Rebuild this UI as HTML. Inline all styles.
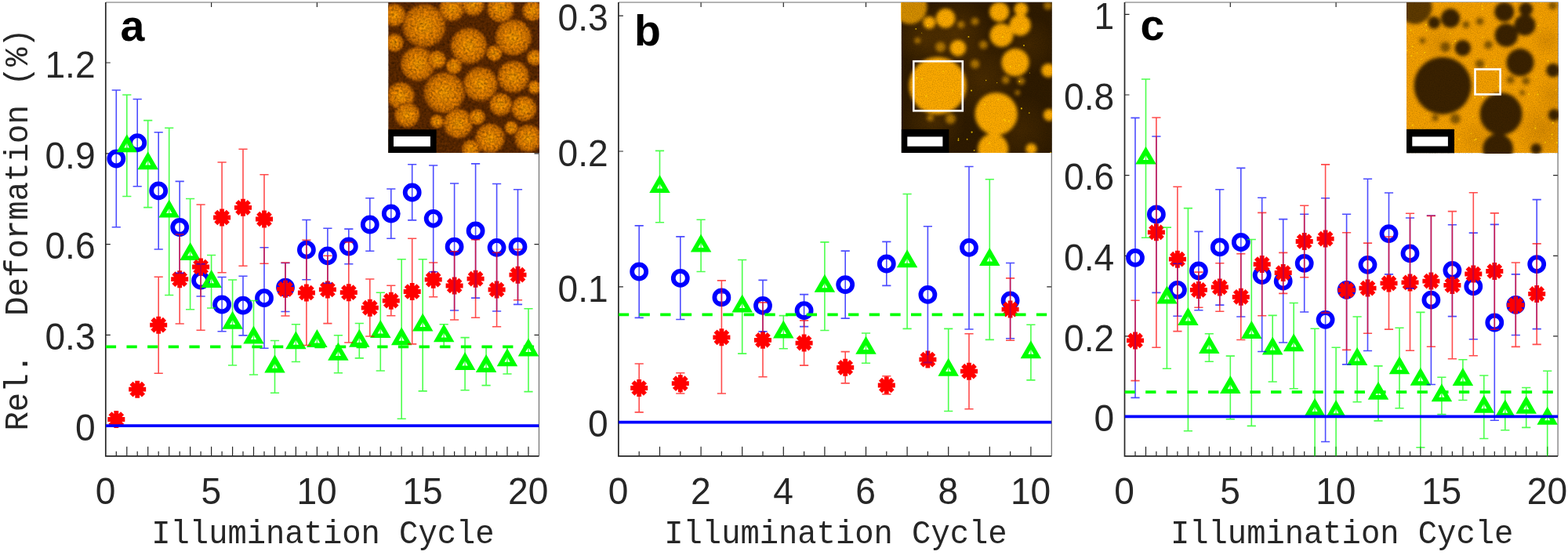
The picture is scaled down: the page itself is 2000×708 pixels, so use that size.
<!DOCTYPE html>
<html lang="en"><head><meta charset="utf-8"><title>Relative deformation vs illumination cycle</title>
<style>html,body{margin:0;padding:0;background:#fff}body{width:2000px;height:708px;overflow:hidden}svg{display:block}.tk{font-family:"Liberation Sans",sans-serif;font-size:48.6px;fill:#262626}.mono{font-family:"Liberation Mono","DejaVu Sans Mono",monospace;fill:#262626}.ltr{font-family:"Liberation Sans",sans-serif;font-weight:bold;font-size:55.5px;fill:#000}</style></head><body>
<svg width="2000" height="708" viewBox="0 0 2000 708">
<defs>
<filter id="nzA" x="0" y="0" width="100%" height="100%"><feTurbulence type="fractalNoise" baseFrequency="0.34" numOctaves="2" seed="3" result="t"/><feColorMatrix in="t" type="matrix" values="0 0 0 0 0  0 0 0 0 0  0 0 0 0 0  1.8 0 0 0 -0.6"/></filter>
<filter id="nzA2" x="0" y="0" width="100%" height="100%"><feTurbulence type="fractalNoise" baseFrequency="0.34" numOctaves="2" seed="9" result="t"/><feColorMatrix in="t" type="matrix" values="0 0 0 0 0  0 0 0 0 0  0 0 0 0 0  0 1.8 0 0 -0.7"/></filter>
<filter id="nzB" x="0" y="0" width="100%" height="100%"><feTurbulence type="fractalNoise" baseFrequency="0.85" numOctaves="2" seed="5" result="t"/><feColorMatrix in="t" type="matrix" values="0 0 0 0 0  0 0 0 0 0  0 0 0 0 0  2.6 0 0 0 -1.0"/></filter>
<filter id="bl1" x="-20%" y="-20%" width="140%" height="140%"><feGaussianBlur stdDeviation="2.0"/></filter>
<filter id="bl3" x="-20%" y="-20%" width="140%" height="140%"><feGaussianBlur stdDeviation="6"/></filter>
<filter id="bl5" x="-20%" y="-20%" width="140%" height="140%"><feGaussianBlur stdDeviation="1.0"/></filter>
<filter id="bl4" x="-20%" y="-20%" width="140%" height="140%"><feGaussianBlur stdDeviation="0.45"/></filter>
</defs>
<rect width="2000" height="708" fill="#ffffff"/>
<g id="panel-a">
<clipPath id="clip-a"><rect x="134.8" y="3.0" width="552.7" height="578.8"/></clipPath>
<path d="M134.8 543.2h6M687.5 543.2h-6M134.8 427.4h6M687.5 427.4h-6M134.8 311.6h6M687.5 311.6h-6M134.8 195.8h6M687.5 195.8h-6M134.8 80.0h6M687.5 80.0h-6M269.6 3.0v6M404.4 3.0v6M539.2 3.0v6M674.0 3.0v6M148.3 581.8v-6M161.8 581.8v-12M175.2 581.8v-6M188.7 581.8v-12M202.2 581.8v-6M215.7 581.8v-12M229.2 581.8v-6M242.6 581.8v-12M256.1 581.8v-6M269.6 581.8v-12M283.1 581.8v-6M296.6 581.8v-12M310.0 581.8v-6M323.5 581.8v-12M337.0 581.8v-6M350.5 581.8v-12M364.0 581.8v-6M377.4 581.8v-12M390.9 581.8v-6M404.4 581.8v-12M417.9 581.8v-6M431.4 581.8v-12M444.8 581.8v-6M458.3 581.8v-12M471.8 581.8v-6M485.3 581.8v-12M498.8 581.8v-6M512.2 581.8v-12M525.7 581.8v-6M539.2 581.8v-12M552.7 581.8v-6M566.2 581.8v-12M579.6 581.8v-6M593.1 581.8v-12M606.6 581.8v-6M620.1 581.8v-12M633.6 581.8v-6M647.0 581.8v-12M660.5 581.8v-6M674.0 581.8v-12" stroke="#262626" stroke-width="1.2" fill="none"/>
<path d="M134.8 3.0H687.5V581.8" stroke="#6a6a6a" stroke-width="1.15" fill="none"/>
<path d="M134.8 3.0V581.8H687.5" stroke="#262626" stroke-width="1.7" fill="none"/>
<g clip-path="url(#clip-a)">
<g fill="none" stroke="#0000ff" stroke-width="5.8"><circle cx="148.3" cy="202.5" r="9.0"/><circle cx="175.2" cy="182.2" r="9.0"/><circle cx="202.2" cy="243.4" r="9.0"/><circle cx="229.2" cy="290.0" r="9.0"/><circle cx="256.1" cy="357.7" r="9.0"/><circle cx="283.1" cy="388.5" r="9.0"/><circle cx="310.0" cy="389.7" r="9.0"/><circle cx="337.0" cy="380.2" r="9.0"/><circle cx="364.0" cy="366.7" r="9.0"/><circle cx="390.9" cy="318.7" r="9.0"/><circle cx="417.9" cy="326.3" r="9.0"/><circle cx="444.8" cy="314.5" r="9.0"/><circle cx="471.8" cy="286.5" r="9.0"/><circle cx="498.8" cy="272.5" r="9.0"/><circle cx="525.7" cy="245.5" r="9.0"/><circle cx="552.7" cy="278.8" r="9.0"/><circle cx="579.6" cy="314.7" r="9.0"/><circle cx="606.6" cy="294.5" r="9.0"/><circle cx="633.6" cy="315.8" r="9.0"/><circle cx="660.5" cy="314.7" r="9.0"/></g>
<g fill="none" stroke="#00ff00" stroke-width="5.6" stroke-linejoin="miter" stroke-miterlimit="10"><polygon points="161.8,176.9 170.2,191.4 153.4,191.4"/><polygon points="188.7,198.9 197.1,213.4 180.3,213.4"/><polygon points="215.7,260.1 224.1,274.7 207.3,274.7"/><polygon points="242.6,314.5 251.0,329.1 234.2,329.1"/><polygon points="269.6,349.5 278.0,364.1 261.2,364.1"/><polygon points="296.6,402.3 305.0,416.9 288.2,416.9"/><polygon points="323.5,421.2 331.9,435.8 315.1,435.8"/><polygon points="350.5,458.0 358.9,472.6 342.1,472.6"/><polygon points="377.4,427.9 385.8,442.5 369.0,442.5"/><polygon points="404.4,425.7 412.8,440.2 396.0,440.2"/><polygon points="431.4,442.3 439.8,456.9 423.0,456.9"/><polygon points="458.3,425.3 466.7,439.9 449.9,439.9"/><polygon points="485.3,413.6 493.7,428.2 476.9,428.2"/><polygon points="512.2,422.9 520.6,437.5 503.8,437.5"/><polygon points="539.2,405.2 547.6,419.8 530.8,419.8"/><polygon points="566.2,418.8 574.6,433.4 557.8,433.4"/><polygon points="593.1,454.6 601.5,469.2 584.7,469.2"/><polygon points="620.1,457.5 628.5,472.1 611.7,472.1"/><polygon points="647.0,449.9 655.4,464.5 638.6,464.5"/><polygon points="674.0,437.1 682.4,451.7 665.6,451.7"/></g>
<g fill="none" stroke="#ff0000" stroke-width="5.8"><path d="M137.3 535.0H159.3M148.3 524.0V546.0M140.5 527.2L156.1 542.8M140.5 542.8L156.1 527.2"/><path d="M164.2 496.7H186.2M175.2 485.7V507.7M167.5 488.9L183.0 504.5M167.5 504.5L183.0 488.9"/><path d="M191.2 414.7H213.2M202.2 403.7V425.7M194.4 406.9L210.0 422.5M194.4 422.5L210.0 406.9"/><path d="M218.2 356.2H240.2M229.2 345.2V367.2M221.4 348.4L236.9 364.0M221.4 364.0L236.9 348.4"/><path d="M245.1 340.5H267.1M256.1 329.5V351.5M248.3 332.7L263.9 348.3M248.3 348.3L263.9 332.7"/><path d="M272.1 277.5H294.1M283.1 266.5V288.5M275.3 269.7L290.9 285.3M275.3 285.3L290.9 269.7"/><path d="M299.0 264.8H321.0M310.0 253.8V275.8M302.3 257.0L317.8 272.6M302.3 272.6L317.8 257.0"/><path d="M326.0 279.5H348.0M337.0 268.5V290.5M329.2 271.7L344.8 287.3M329.2 287.3L344.8 271.7"/><path d="M353.0 368.8H375.0M364.0 357.8V379.8M356.2 361.0L371.7 376.6M356.2 376.6L371.7 361.0"/><path d="M379.9 373.5H401.9M390.9 362.5V384.5M383.1 365.7L398.7 381.3M383.1 381.3L398.7 365.7"/><path d="M406.9 369.4H428.9M417.9 358.4V380.4M410.1 361.6L425.7 377.2M410.1 377.2L425.7 361.6"/><path d="M433.8 373.2H455.8M444.8 362.2V384.2M437.1 365.4L452.6 381.0M437.1 381.0L452.6 365.4"/><path d="M460.8 392.7H482.8M471.8 381.7V403.7M464.0 384.9L479.6 400.5M464.0 400.5L479.6 384.9"/><path d="M487.8 383.7H509.8M498.8 372.7V394.7M491.0 375.9L506.5 391.5M491.0 391.5L506.5 375.9"/><path d="M514.7 372.0H536.7M525.7 361.0V383.0M517.9 364.2L533.5 379.8M517.9 379.8L533.5 364.2"/><path d="M541.7 356.7H563.7M552.7 345.7V367.7M544.9 348.9L560.5 364.5M544.9 364.5L560.5 348.9"/><path d="M568.6 364.5H590.6M579.6 353.5V375.5M571.9 356.7L587.4 372.3M571.9 372.3L587.4 356.7"/><path d="M595.6 355.7H617.6M606.6 344.7V366.7M598.8 347.9L614.4 363.5M598.8 363.5L614.4 347.9"/><path d="M622.6 369.5H644.6M633.6 358.5V380.5M625.8 361.7L641.3 377.3M625.8 377.3L641.3 361.7"/><path d="M649.5 350.7H671.5M660.5 339.7V361.7M652.7 342.9L668.3 358.5M652.7 358.5L668.3 342.9"/></g>
<path fill="none" stroke="#0000ff" stroke-opacity="0.7" stroke-width="1.6" d="M142.7 115.0H153.9M142.7 289.7H153.9M148.3 115.0V289.7M169.6 126.5H180.8M169.6 237.8H180.8M175.2 126.5V237.8M196.6 168.7H207.8M196.6 318.0H207.8M202.2 168.7V318.0M223.6 231.4H234.8M223.6 348.3H234.8M229.2 231.4V348.3M250.5 336.7H261.7M250.5 378.0H261.7M256.1 336.7V378.0M277.5 353.5H288.7M277.5 422.8H288.7M283.1 353.5V422.8M304.4 352.2H315.6M304.4 427.9H315.6M310.0 352.2V427.9M331.4 315.7H342.6M331.4 444.2H342.6M337.0 315.7V444.2M358.4 335.5H369.6M358.4 397.5H369.6M364.0 335.5V397.5M385.3 280.5H396.5M385.3 356.7H396.5M390.9 280.5V356.7M412.3 291.2H423.5M412.3 361.2H423.5M417.9 291.2V361.2M439.2 292.1H450.4M439.2 336.8H450.4M444.8 292.1V336.8M466.2 252.7H477.4M466.2 320.3H477.4M471.8 252.7V320.3M493.2 241.0H504.4M493.2 304.2H504.4M498.8 241.0V304.2M520.1 209.8H531.3M520.1 280.9H531.3M525.7 209.8V280.9M547.1 211.0H558.3M547.1 346.7H558.3M552.7 211.0V346.7M574.0 234.0H585.2M574.0 396.0H585.2M579.6 234.0V396.0M601.0 208.9H612.2M601.0 380.1H612.2M606.6 208.9V380.1M628.0 234.5H639.2M628.0 397.0H639.2M633.6 234.5V397.0M654.9 241.7H666.1M654.9 388.4H666.1M660.5 241.7V388.4"/>
<path fill="none" stroke="#00ff00" stroke-opacity="0.7" stroke-width="1.6" d="M156.2 121.0H167.4M156.2 250.5H167.4M161.8 121.0V250.5M183.1 153.6H194.3M183.1 264.6H194.3M188.7 153.6V264.6M210.1 163.3H221.3M210.1 376.5H221.3M215.7 163.3V376.5M237.0 253.5H248.2M237.0 394.8H248.2M242.6 253.5V394.8M264.0 325.5H275.2M264.0 393.0H275.2M269.6 325.5V393.0M291.0 357.0H302.2M291.0 466.0H302.2M296.6 357.0V466.0M317.9 383.5H329.1M317.9 478.0H329.1M323.5 383.5V478.0M344.9 434.5H356.1M344.9 501.2H356.1M350.5 434.5V501.2M371.8 413.8H383.0M371.8 461.5H383.0M377.4 413.8V461.5M398.8 431.0H410.0M398.8 440.0H410.0M404.4 431.0V440.0M425.8 427.8H437.0M425.8 475.8H437.0M431.4 427.8V475.8M452.7 412.5H463.9M452.7 456.9H463.9M458.3 412.5V456.9M479.7 373.2H490.9M479.7 473.0H490.9M485.3 373.2V473.0M506.6 330.8H517.8M506.6 534.3H517.8M512.2 330.8V534.3M533.6 330.8H544.8M533.6 498.9H544.8M539.2 330.8V498.9M560.6 413.7H571.8M560.6 442.5H571.8M566.2 413.7V442.5M587.5 430.6H598.7M587.5 497.7H598.7M593.1 430.6V497.7M614.5 442.5H625.7M614.5 491.6H625.7M620.1 442.5V491.6M641.4 442.0H652.6M641.4 477.0H652.6M647.0 442.0V477.0M668.4 393.8H679.6M668.4 499.6H679.6M674.0 393.8V499.6"/>
<path fill="none" stroke="#ff0000" stroke-opacity="0.7" stroke-width="1.6" d="M142.7 531.0H153.9M142.7 539.0H153.9M148.3 531.0V539.0M169.6 493.0H180.8M169.6 500.0H180.8M175.2 493.0V500.0M196.6 353.2H207.8M196.6 476.2H207.8M202.2 353.2V476.2M223.6 299.0H234.8M223.6 413.0H234.8M229.2 299.0V413.0M250.5 261.0H261.7M250.5 421.3H261.7M256.1 261.0V421.3M277.5 207.0H288.7M277.5 347.7H288.7M283.1 207.0V347.7M304.4 190.2H315.6M304.4 339.3H315.6M310.0 190.2V339.3M331.4 222.8H342.6M331.4 336.3H342.6M337.0 222.8V336.3M358.4 335.0H369.6M358.4 403.0H369.6M364.0 335.0V403.0M385.3 306.3H396.5M385.3 440.5H396.5M390.9 306.3V440.5M412.3 326.2H423.5M412.3 412.6H423.5M417.9 326.2V412.6M439.2 309.0H450.4M439.2 437.0H450.4M444.8 309.0V437.0M466.2 356.0H477.4M466.2 429.0H477.4M471.8 356.0V429.0M493.2 364.2H504.4M493.2 402.7H504.4M498.8 364.2V402.7M520.1 304.2H531.3M520.1 438.9H531.3M525.7 304.2V438.9M547.1 335.0H558.3M547.1 378.8H558.3M552.7 335.0V378.8M574.0 320.7H585.2M574.0 408.0H585.2M579.6 320.7V408.0M601.0 305.7H612.2M601.0 405.2H612.2M606.6 305.7V405.2M628.0 322.2H639.2M628.0 416.7H639.2M633.6 322.2V416.7M654.9 318.0H666.1M654.9 382.7H666.1M660.5 318.0V382.7"/>
<line x1="134.8" x2="687.5" y1="442.3" y2="442.3" stroke="#00ff00" stroke-width="3.8" stroke-dasharray="13.3 13.35"/>
<line x1="134.8" x2="687.5" y1="543.2" y2="543.2" stroke="#0000ff" stroke-width="3.8"/>
</g>
<clipPath id="ic-a"><rect x="495.2" y="3" width="192.8" height="192.0"/></clipPath>
<g clip-path="url(#ic-a)">
<rect x="495.2" y="3" width="192.8" height="192.0" fill="#622c00"/>
<radialGradient id="ga"><stop offset="0" stop-color="#ffa206"/><stop offset="0.5" stop-color="#f68c02"/><stop offset="0.84" stop-color="#d67400"/><stop offset="1" stop-color="#863e00"/></radialGradient>
<g fill="url(#ga)" filter="url(#bl5)"><circle cx="541.1" cy="32.8" r="28.3"/><circle cx="566.8" cy="118.2" r="26.8"/><circle cx="598.0" cy="58.6" r="23.8"/><circle cx="654.9" cy="47.7" r="23.8"/><circle cx="612.9" cy="107.3" r="22.4"/><circle cx="532.9" cy="81.6" r="22.4"/><circle cx="654.9" cy="97.9" r="20.9"/><circle cx="584.4" cy="157.5" r="19.4"/><circle cx="625.1" cy="176.4" r="19.4"/><circle cx="511.3" cy="122.2" r="17.9"/><circle cx="673.9" cy="176.4" r="17.9"/><circle cx="638.6" cy="11.1" r="17.9"/><circle cx="668.4" cy="138.5" r="16.4"/><circle cx="576.3" cy="11.1" r="16.4"/><circle cx="519.4" cy="146.6" r="16.4"/><circle cx="638.6" cy="133.1" r="14.9"/><circle cx="503.1" cy="19.3" r="14.9"/><circle cx="603.4" cy="5.7" r="14.9"/><circle cx="679.3" cy="13.8" r="13.4"/><circle cx="503.1" cy="54.5" r="11.9"/><circle cx="557.3" cy="76.2" r="11.9"/><circle cx="600.7" cy="190.0" r="11.9"/><circle cx="630.5" cy="68.0" r="10.4"/><circle cx="682.0" cy="73.5" r="10.4"/><circle cx="579.0" cy="84.3" r="10.4"/><circle cx="608.8" cy="149.3" r="10.4"/><circle cx="682.0" cy="111.4" r="8.9"/><circle cx="557.3" cy="154.8" r="8.9"/><circle cx="652.2" cy="162.9" r="8.9"/></g>
<rect x="495.2" y="3" width="192.8" height="192.0" fill="#401a00" filter="url(#nzA)" opacity="0.28"/>
<rect x="495.2" y="3" width="192.8" height="192.0" fill="#ffaa18" filter="url(#nzA2)" opacity="0.35"/>
<rect x="495.2" y="165.2" width="61.4" height="29.8" fill="#000"/>
<rect x="502.0" y="174.0" width="46.9" height="12.8" fill="#fff"/>
</g>
<text class="tk" transform="translate(121.6 561.9) scale(0.95 1)" text-anchor="end">0</text>
<text class="tk" transform="translate(121.6 446.1) scale(0.95 1)" text-anchor="end">0.3</text>
<text class="tk" transform="translate(121.6 330.3) scale(0.95 1)" text-anchor="end">0.6</text>
<text class="tk" transform="translate(121.6 214.5) scale(0.95 1)" text-anchor="end">0.9</text>
<text class="tk" transform="translate(121.6 98.7) scale(0.95 1)" text-anchor="end">1.2</text>
<text class="tk" transform="translate(134.5 642.5) scale(0.95 1)" text-anchor="middle">0</text>
<text class="tk" transform="translate(269.3 642.5) scale(0.95 1)" text-anchor="middle">5</text>
<text class="tk" transform="translate(404.1 642.5) scale(0.95 1)" text-anchor="middle">10</text>
<text class="tk" transform="translate(538.9 642.5) scale(0.95 1)" text-anchor="middle">15</text>
<text class="tk" transform="translate(673.7 642.5) scale(0.95 1)" text-anchor="middle">20</text>
<text class="mono" transform="translate(411.9 693.1) scale(1 1.06)" font-size="40.5" text-anchor="middle">Illumination Cycle</text>
<text class="ltr" x="153.6" y="51.8">a</text>
</g>
<g id="panel-b">
<clipPath id="clip-b"><rect x="788.9" y="3.0" width="552.4" height="578.8"/></clipPath>
<path d="M788.9 538.6h6M1341.3 538.6h-6M788.9 365.8h6M1341.3 365.8h-6M788.9 193.0h6M1341.3 193.0h-6M788.9 20.2h6M1341.3 20.2h-6M894.1 3.0v6M999.3 3.0v6M1104.5 3.0v6M1209.7 3.0v6M1314.9 3.0v6M815.2 581.8v-6M841.5 581.8v-12M867.8 581.8v-6M894.1 581.8v-12M920.4 581.8v-6M946.7 581.8v-12M973.0 581.8v-6M999.3 581.8v-12M1025.6 581.8v-6M1051.9 581.8v-12M1078.2 581.8v-6M1104.5 581.8v-12M1130.8 581.8v-6M1157.1 581.8v-12M1183.4 581.8v-6M1209.7 581.8v-12M1236.0 581.8v-6M1262.3 581.8v-12M1288.6 581.8v-6M1314.9 581.8v-12" stroke="#262626" stroke-width="1.2" fill="none"/>
<path d="M788.9 3.0H1341.3V581.8" stroke="#6a6a6a" stroke-width="1.15" fill="none"/>
<path d="M788.9 3.0V581.8H1341.3" stroke="#262626" stroke-width="1.7" fill="none"/>
<g clip-path="url(#clip-b)">
<g fill="none" stroke="#0000ff" stroke-width="5.8"><circle cx="815.2" cy="346.5" r="9.0"/><circle cx="867.8" cy="354.9" r="9.0"/><circle cx="920.4" cy="379.4" r="9.0"/><circle cx="973.0" cy="389.9" r="9.0"/><circle cx="1025.6" cy="396.2" r="9.0"/><circle cx="1078.2" cy="363.1" r="9.0"/><circle cx="1130.8" cy="336.5" r="9.0"/><circle cx="1183.4" cy="375.9" r="9.0"/><circle cx="1236.0" cy="315.9" r="9.0"/><circle cx="1288.6" cy="383.3" r="9.0"/></g>
<g fill="none" stroke="#00ff00" stroke-width="5.6" stroke-linejoin="miter" stroke-miterlimit="10"><polygon points="841.5,228.6 849.9,243.2 833.1,243.2"/><polygon points="894.1,304.1 902.5,318.7 885.7,318.7"/><polygon points="946.7,381.1 955.1,395.7 938.3,395.7"/><polygon points="999.3,414.1 1007.7,428.7 990.9,428.7"/><polygon points="1051.9,355.4 1060.3,370.0 1043.5,370.0"/><polygon points="1104.5,434.3 1112.9,448.9 1096.1,448.9"/><polygon points="1157.1,323.9 1165.5,338.5 1148.7,338.5"/><polygon points="1209.7,462.3 1218.1,476.9 1201.3,476.9"/><polygon points="1262.3,321.6 1270.7,336.2 1253.9,336.2"/><polygon points="1314.9,439.9 1323.3,454.5 1306.5,454.5"/></g>
<g fill="none" stroke="#ff0000" stroke-width="5.8"><path d="M804.2 495.0H826.2M815.2 484.0V506.0M807.4 487.2L823.0 502.8M807.4 502.8L823.0 487.2"/><path d="M856.8 489.2H878.8M867.8 478.2V500.2M860.0 481.4L875.6 497.0M860.0 497.0L875.6 481.4"/><path d="M909.4 430.3H931.4M920.4 419.3V441.3M912.6 422.5L928.2 438.1M912.6 438.1L928.2 422.5"/><path d="M962.0 433.8H984.0M973.0 422.8V444.8M965.2 426.0L980.8 441.6M965.2 441.6L980.8 426.0"/><path d="M1014.6 437.6H1036.6M1025.6 426.6V448.6M1017.8 429.8L1033.4 445.4M1017.8 445.4L1033.4 429.8"/><path d="M1067.2 468.8H1089.2M1078.2 457.8V479.8M1070.4 461.0L1086.0 476.6M1070.4 476.6L1086.0 461.0"/><path d="M1119.8 491.5H1141.8M1130.8 480.5V502.5M1123.0 483.7L1138.6 499.3M1123.0 499.3L1138.6 483.7"/><path d="M1172.4 458.6H1194.4M1183.4 447.6V469.6M1175.6 450.8L1191.2 466.4M1175.6 466.4L1191.2 450.8"/><path d="M1225.0 473.7H1247.0M1236.0 462.7V484.7M1228.2 465.9L1243.8 481.5M1228.2 481.5L1243.8 465.9"/><path d="M1277.6 394.6H1299.6M1288.6 383.6V405.6M1280.8 386.8L1296.4 402.4M1280.8 402.4L1296.4 386.8"/></g>
<path fill="none" stroke="#0000ff" stroke-opacity="0.7" stroke-width="1.6" d="M809.6 287.9H820.8M809.6 405.4H820.8M815.2 287.9V405.4M862.2 301.9H873.4M862.2 407.5H873.4M867.8 301.9V407.5M914.8 374.0H926.0M914.8 385.0H926.0M920.4 374.0V385.0M967.4 357.4H978.6M967.4 422.9H978.6M973.0 357.4V422.9M1020.0 375.6H1031.2M1020.0 416.6H1031.2M1025.6 375.6V416.6M1072.6 320.1H1083.8M1072.6 406.1H1083.8M1078.2 320.1V406.1M1125.2 308.4H1136.4M1125.2 364.4H1136.4M1130.8 308.4V364.4M1177.8 288.8H1189.0M1177.8 462.6H1189.0M1183.4 288.8V462.6M1230.4 212.5H1241.6M1230.4 420.0H1241.6M1236.0 212.5V420.0M1283.0 335.5H1294.2M1283.0 431.7H1294.2M1288.6 335.5V431.7"/>
<path fill="none" stroke="#00ff00" stroke-opacity="0.7" stroke-width="1.6" d="M835.9 192.4H847.1M835.9 283.7H847.1M841.5 192.4V283.7M888.5 280.2H899.7M888.5 346.5H899.7M894.1 280.2V346.5M941.1 331.5H952.3M941.1 451.1H952.3M946.7 331.5V451.1M993.7 402.6H1004.9M993.7 444.8H1004.9M999.3 402.6V444.8M1046.3 308.9H1057.5M1046.3 421.5H1057.5M1051.9 308.9V421.5M1098.9 425.0H1110.1M1098.9 463.2H1110.1M1104.5 425.0V463.2M1151.5 247.5H1162.7M1151.5 419.4H1162.7M1157.1 247.5V419.4M1204.1 419.4H1215.3M1204.1 524.5H1215.3M1209.7 419.4V524.5M1256.7 228.8H1267.9M1256.7 433.4H1267.9M1262.3 228.8V433.4M1309.3 414.2H1320.5M1309.3 484.9H1320.5M1314.9 414.2V484.9"/>
<path fill="none" stroke="#ff0000" stroke-opacity="0.7" stroke-width="1.6" d="M809.6 464.0H820.8M809.6 525.9H820.8M815.2 464.0V525.9M862.2 475.8H873.4M862.2 502.0H873.4M867.8 475.8V502.0M914.8 357.9H926.0M914.8 502.0H926.0M920.4 357.9V502.0M967.4 385.9H978.6M967.4 480.7H978.6M973.0 385.9V480.7M1020.0 408.9H1031.2M1020.0 466.1H1031.2M1025.6 408.9V466.1M1072.6 448.6H1083.8M1072.6 488.9H1083.8M1078.2 448.6V488.9M1125.2 479.8H1136.4M1125.2 502.9H1136.4M1130.8 479.8V502.9M1177.8 454.0H1189.0M1177.8 463.0H1189.0M1183.4 454.0V463.0M1230.4 425.7H1241.6M1230.4 521.7H1241.6M1236.0 425.7V521.7M1283.0 354.9H1294.2M1283.0 434.3H1294.2M1288.6 354.9V434.3"/>
<line x1="788.9" x2="1341.3" y1="401.3" y2="401.3" stroke="#00ff00" stroke-width="3.8" stroke-dasharray="13.3 13.35"/>
<line x1="788.9" x2="1341.3" y1="538.6" y2="538.6" stroke="#0000ff" stroke-width="3.8"/>
</g>
<clipPath id="ic-b"><rect x="1149.6" y="3" width="192.2" height="192.0"/></clipPath>
<g clip-path="url(#ic-b)">
<rect x="1149.6" y="3" width="192.2" height="192.0" fill="#2f1b00"/>
<radialGradient id="hz-b"><stop offset="0" stop-color="#5a3600" stop-opacity="1"/><stop offset="0.5" stop-color="#5a3600" stop-opacity="0.55"/><stop offset="1" stop-color="#5a3600" stop-opacity="0"/></radialGradient>
<g><circle cx="1217.8" cy="43.7" r="48.8" fill="url(#hz-b)" opacity="0.8"/><circle cx="1253.1" cy="100.6" r="52.9" fill="url(#hz-b)" opacity="0.6"/><circle cx="1190.7" cy="154.9" r="40.7" fill="url(#hz-b)" opacity="0.6"/><circle cx="1301.9" cy="165.7" r="44.7" fill="url(#hz-b)" opacity="0.45"/><circle cx="1312.7" cy="57.2" r="36.6" fill="url(#hz-b)" opacity="0.45"/><circle cx="1177.1" cy="49.1" r="36.6" fill="url(#hz-b)" opacity="0.7"/></g>
<g fill="#fcaa00" filter="url(#bl1)"><circle cx="1196.1" cy="109.3" r="36.6"/><circle cx="1270.7" cy="145.4" r="27.1"/><circle cx="1160.8" cy="9.0" r="21.7" opacity="0.8"/><circle cx="1266.6" cy="190.1" r="19.5"/><circle cx="1295.1" cy="79.7" r="17.6"/><circle cx="1277.5" cy="45.0" r="14.9"/><circle cx="1301.1" cy="32.0" r="13.6"/><circle cx="1274.7" cy="15.2" r="12.5"/><circle cx="1206.1" cy="23.3" r="12.2"/><circle cx="1221.9" cy="61.3" r="10.3"/><circle cx="1337.1" cy="89.8" r="8.9"/><circle cx="1302.4" cy="11.7" r="8.9"/><circle cx="1185.3" cy="28.8" r="7.9"/><circle cx="1338.5" cy="146.7" r="7.6"/><circle cx="1315.4" cy="190.1" r="7.1"/><circle cx="1199.6" cy="59.9" r="6.5" opacity="0.6"/><circle cx="1212.4" cy="151.6" r="6.5" opacity="0.6"/><circle cx="1243.6" cy="81.6" r="5.7" opacity="0.6"/><circle cx="1336.6" cy="7.1" r="5.4" opacity="0.6"/><circle cx="1254.4" cy="57.2" r="5.4" opacity="0.6"/><circle cx="1243.6" cy="27.4" r="4.9" opacity="0.6"/><circle cx="1282.9" cy="102.0" r="4.9" opacity="0.6"/><circle cx="1302.4" cy="103.3" r="4.9" opacity="0.6"/><circle cx="1225.9" cy="31.5" r="4.6" opacity="0.6"/><circle cx="1186.6" cy="150.3" r="4.3" opacity="0.6"/><circle cx="1170.3" cy="51.8" r="3.8" opacity="0.6"/><circle cx="1297.8" cy="118.3" r="3.3" opacity="0.6"/></g>
<rect x="1149.6" y="3" width="192.2" height="192.0" fill="#1a0e00" filter="url(#nzB)" opacity="0.14"/>
<g fill="#ffd400" opacity="0.85" filter="url(#bl4)"><circle cx="1203.3" cy="91.2" r="0.83"/><circle cx="1169.1" cy="99.4" r="1.07"/><circle cx="1257.7" cy="102.6" r="0.77"/><circle cx="1242.6" cy="191.8" r="0.91"/><circle cx="1300.3" cy="104.0" r="0.89"/><circle cx="1239.0" cy="115.5" r="1.06"/><circle cx="1300.0" cy="83.3" r="0.79"/><circle cx="1225.8" cy="120.4" r="0.80"/><circle cx="1278.1" cy="167.1" r="0.75"/><circle cx="1288.9" cy="85.1" r="1.00"/><circle cx="1235.4" cy="46.9" r="0.95"/><circle cx="1302.9" cy="138.4" r="1.03"/><circle cx="1162.7" cy="17.8" r="0.52"/><circle cx="1168.3" cy="36.8" r="0.87"/><circle cx="1198.2" cy="29.5" r="0.55"/><circle cx="1280.3" cy="152.3" r="0.82"/><circle cx="1282.4" cy="128.0" r="0.64"/><circle cx="1279.1" cy="47.1" r="1.10"/><circle cx="1196.7" cy="76.2" r="0.57"/><circle cx="1176.0" cy="100.8" r="1.07"/><circle cx="1273.2" cy="126.9" r="1.05"/><circle cx="1313.4" cy="93.1" r="0.53"/><circle cx="1215.5" cy="115.9" r="0.81"/><circle cx="1292.5" cy="138.2" r="0.51"/><circle cx="1340.2" cy="195.0" r="0.92"/><circle cx="1223.3" cy="55.7" r="0.60"/><circle cx="1256.2" cy="133.3" r="0.92"/><circle cx="1306.0" cy="58.0" r="0.95"/><circle cx="1312.8" cy="144.0" r="0.85"/><circle cx="1285.4" cy="132.4" r="0.65"/><circle cx="1287.0" cy="154.7" r="0.97"/><circle cx="1261.9" cy="182.6" r="1.08"/><circle cx="1281.9" cy="153.7" r="1.09"/><circle cx="1271.7" cy="105.6" r="0.62"/><circle cx="1266.0" cy="124.2" r="0.51"/><circle cx="1304.3" cy="36.8" r="1.07"/><circle cx="1222.4" cy="178.8" r="0.97"/><circle cx="1197.5" cy="127.5" r="0.57"/><circle cx="1181.4" cy="122.4" r="1.01"/><circle cx="1183.1" cy="32.5" r="0.97"/><circle cx="1233.6" cy="177.7" r="0.85"/><circle cx="1175.7" cy="41.9" r="0.52"/><circle cx="1222.5" cy="176.7" r="0.80"/><circle cx="1239.6" cy="168.6" r="1.10"/><circle cx="1196.2" cy="89.7" r="0.53"/></g>
<rect x="1165.3" y="78.2" width="62.5" height="63.1" fill="none" stroke="#fff" stroke-width="2.6"/>
<rect x="1149.6" y="164.9" width="60.8" height="30.1" fill="#000"/>
<rect x="1157.3" y="174.4" width="45.1" height="12.3" fill="#fff"/>
</g>
<text class="tk" transform="translate(775.7 557.3) scale(0.95 1)" text-anchor="end">0</text>
<text class="tk" transform="translate(775.7 384.5) scale(0.95 1)" text-anchor="end">0.1</text>
<text class="tk" transform="translate(775.7 211.7) scale(0.95 1)" text-anchor="end">0.2</text>
<text class="tk" transform="translate(775.7 38.9) scale(0.95 1)" text-anchor="end">0.3</text>
<text class="tk" transform="translate(788.6 642.5) scale(0.95 1)" text-anchor="middle">0</text>
<text class="tk" transform="translate(893.8 642.5) scale(0.95 1)" text-anchor="middle">2</text>
<text class="tk" transform="translate(999.0 642.5) scale(0.95 1)" text-anchor="middle">4</text>
<text class="tk" transform="translate(1104.2 642.5) scale(0.95 1)" text-anchor="middle">6</text>
<text class="tk" transform="translate(1209.4 642.5) scale(0.95 1)" text-anchor="middle">8</text>
<text class="tk" transform="translate(1314.6 642.5) scale(0.95 1)" text-anchor="middle">10</text>
<text class="mono" transform="translate(1065.9 693.1) scale(1 1.06)" font-size="40.5" text-anchor="middle">Illumination Cycle</text>
<text class="ltr" x="808.9" y="58.3">b</text>
</g>
<g id="panel-c">
<clipPath id="clip-c"><rect x="1434.5" y="3.0" width="552.6" height="578.8"/></clipPath>
<path d="M1434.5 531.3h6M1987.1 531.3h-6M1434.5 428.8h6M1987.1 428.8h-6M1434.5 326.3h6M1987.1 326.3h-6M1434.5 223.6h6M1987.1 223.6h-6M1434.5 121.0h6M1987.1 121.0h-6M1434.5 18.4h6M1987.1 18.4h-6M1569.3 3.0v6M1704.1 3.0v6M1838.9 3.0v6M1973.7 3.0v6M1448.0 581.8v-6M1461.5 581.8v-12M1474.9 581.8v-6M1488.4 581.8v-12M1501.9 581.8v-6M1515.4 581.8v-12M1528.9 581.8v-6M1542.3 581.8v-12M1555.8 581.8v-6M1569.3 581.8v-12M1582.8 581.8v-6M1596.3 581.8v-12M1609.7 581.8v-6M1623.2 581.8v-12M1636.7 581.8v-6M1650.2 581.8v-12M1663.7 581.8v-6M1677.1 581.8v-12M1690.6 581.8v-6M1704.1 581.8v-12M1717.6 581.8v-6M1731.1 581.8v-12M1744.5 581.8v-6M1758.0 581.8v-12M1771.5 581.8v-6M1785.0 581.8v-12M1798.5 581.8v-6M1811.9 581.8v-12M1825.4 581.8v-6M1838.9 581.8v-12M1852.4 581.8v-6M1865.9 581.8v-12M1879.3 581.8v-6M1892.8 581.8v-12M1906.3 581.8v-6M1919.8 581.8v-12M1933.3 581.8v-6M1946.7 581.8v-12M1960.2 581.8v-6M1973.7 581.8v-12" stroke="#262626" stroke-width="1.2" fill="none"/>
<path d="M1434.5 3.0H1987.1V581.8" stroke="#6a6a6a" stroke-width="1.15" fill="none"/>
<path d="M1434.5 3.0V581.8H1987.1" stroke="#262626" stroke-width="1.7" fill="none"/>
<g clip-path="url(#clip-c)">
<g fill="none" stroke="#0000ff" stroke-width="5.8"><circle cx="1448.0" cy="328.9" r="9.0"/><circle cx="1474.9" cy="273.5" r="9.0"/><circle cx="1501.9" cy="369.9" r="9.0"/><circle cx="1528.9" cy="345.5" r="9.0"/><circle cx="1555.8" cy="315.4" r="9.0"/><circle cx="1582.8" cy="309.0" r="9.0"/><circle cx="1609.7" cy="351.1" r="9.0"/><circle cx="1636.7" cy="358.7" r="9.0"/><circle cx="1663.7" cy="335.9" r="9.0"/><circle cx="1690.6" cy="407.8" r="9.0"/><circle cx="1717.6" cy="369.8" r="9.0"/><circle cx="1744.5" cy="337.8" r="9.0"/><circle cx="1771.5" cy="298.1" r="9.0"/><circle cx="1798.5" cy="323.3" r="9.0"/><circle cx="1825.4" cy="382.6" r="9.0"/><circle cx="1852.4" cy="345.0" r="9.0"/><circle cx="1879.3" cy="365.3" r="9.0"/><circle cx="1906.3" cy="411.5" r="9.0"/><circle cx="1933.3" cy="388.9" r="9.0"/><circle cx="1960.2" cy="337.1" r="9.0"/></g>
<g fill="none" stroke="#00ff00" stroke-width="5.6" stroke-linejoin="miter" stroke-miterlimit="10"><polygon points="1461.5,192.3 1469.9,206.8 1453.1,206.8"/><polygon points="1488.4,370.0 1496.8,384.6 1480.0,384.6"/><polygon points="1515.4,397.7 1523.8,412.2 1507.0,412.2"/><polygon points="1542.3,433.6 1550.7,448.2 1533.9,448.2"/><polygon points="1569.3,484.5 1577.7,499.1 1560.9,499.1"/><polygon points="1596.3,414.5 1604.7,429.1 1587.9,429.1"/><polygon points="1623.2,435.0 1631.6,449.6 1614.8,449.6"/><polygon points="1650.2,430.8 1658.6,445.4 1641.8,445.4"/><polygon points="1677.1,513.3 1685.5,527.9 1668.7,527.9"/><polygon points="1704.1,515.6 1712.5,530.1 1695.7,530.1"/><polygon points="1731.1,448.6 1739.5,463.2 1722.7,463.2"/><polygon points="1758.0,492.3 1766.4,506.9 1749.6,506.9"/><polygon points="1785.0,459.9 1793.4,474.5 1776.6,474.5"/><polygon points="1811.9,474.4 1820.3,489.0 1803.5,489.0"/><polygon points="1838.9,494.9 1847.3,509.5 1830.5,509.5"/><polygon points="1865.9,474.7 1874.3,489.2 1857.5,489.2"/><polygon points="1892.8,509.4 1901.2,524.0 1884.4,524.0"/><polygon points="1919.8,515.1 1928.2,529.6 1911.4,529.6"/><polygon points="1946.7,510.4 1955.1,525.0 1938.3,525.0"/><polygon points="1973.7,524.4 1982.1,539.0 1965.3,539.0"/></g>
<g fill="none" stroke="#ff0000" stroke-width="5.8"><path d="M1437.0 434.4H1459.0M1448.0 423.4V445.4M1440.2 426.6L1455.8 442.2M1440.2 442.2L1455.8 426.6"/><path d="M1463.9 296.3H1485.9M1474.9 285.3V307.3M1467.2 288.5L1482.7 304.1M1467.2 304.1L1482.7 288.5"/><path d="M1490.9 330.7H1512.9M1501.9 319.7V341.7M1494.1 322.9L1509.7 338.5M1494.1 338.5L1509.7 322.9"/><path d="M1517.9 369.9H1539.9M1528.9 358.9V380.9M1521.1 362.1L1536.6 377.7M1521.1 377.7L1536.6 362.1"/><path d="M1544.8 366.4H1566.8M1555.8 355.4V377.4M1548.0 358.6L1563.6 374.2M1548.0 374.2L1563.6 358.6"/><path d="M1571.8 378.8H1593.8M1582.8 367.8V389.8M1575.0 371.0L1590.6 386.6M1575.0 386.6L1590.6 371.0"/><path d="M1598.7 337.1H1620.7M1609.7 326.1V348.1M1602.0 329.3L1617.5 344.9M1602.0 344.9L1617.5 329.3"/><path d="M1625.7 348.0H1647.7M1636.7 337.0V359.0M1628.9 340.2L1644.5 355.8M1628.9 355.8L1644.5 340.2"/><path d="M1652.7 308.0H1674.7M1663.7 297.0V319.0M1655.9 300.2L1671.4 315.8M1655.9 315.8L1671.4 300.2"/><path d="M1679.6 304.6H1701.6M1690.6 293.6V315.6M1682.8 296.8L1698.4 312.4M1682.8 312.4L1698.4 296.8"/><path d="M1706.6 370.2H1728.6M1717.6 359.2V381.2M1709.8 362.4L1725.4 378.0M1709.8 378.0L1725.4 362.4"/><path d="M1733.5 367.6H1755.5M1744.5 356.6V378.6M1736.8 359.8L1752.3 375.4M1736.8 375.4L1752.3 359.8"/><path d="M1760.5 361.4H1782.5M1771.5 350.4V372.4M1763.7 353.6L1779.3 369.2M1763.7 369.2L1779.3 353.6"/><path d="M1787.5 360.4H1809.5M1798.5 349.4V371.4M1790.7 352.6L1806.2 368.2M1790.7 368.2L1806.2 352.6"/><path d="M1814.4 358.6H1836.4M1825.4 347.6V369.6M1817.6 350.8L1833.2 366.4M1817.6 366.4L1833.2 350.8"/><path d="M1841.4 363.9H1863.4M1852.4 352.9V374.9M1844.6 356.1L1860.2 371.7M1844.6 371.7L1860.2 356.1"/><path d="M1868.3 349.5H1890.3M1879.3 338.5V360.5M1871.6 341.7L1887.1 357.3M1871.6 357.3L1887.1 341.7"/><path d="M1895.3 346.0H1917.3M1906.3 335.0V357.0M1898.5 338.2L1914.1 353.8M1898.5 353.8L1914.1 338.2"/><path d="M1922.3 389.2H1944.3M1933.3 378.2V400.2M1925.5 381.4L1941.0 397.0M1925.5 397.0L1941.0 381.4"/><path d="M1949.2 374.9H1971.2M1960.2 363.9V385.9M1952.4 367.1L1968.0 382.7M1952.4 382.7L1968.0 367.1"/></g>
<path fill="none" stroke="#0000ff" stroke-opacity="0.7" stroke-width="1.6" d="M1442.4 150.4H1453.6M1442.4 507.4H1453.6M1448.0 150.4V507.4M1469.3 174.0H1480.5M1469.3 373.4H1480.5M1474.9 174.0V373.4M1496.3 336.3H1507.5M1496.3 403.3H1507.5M1501.9 336.3V403.3M1523.3 295.4H1534.5M1523.3 395.8H1534.5M1528.9 295.4V395.8M1550.2 241.7H1561.4M1550.2 389.1H1561.4M1555.8 241.7V389.1M1577.2 214.4H1588.4M1577.2 404.0H1588.4M1582.8 214.4V404.0M1604.1 252.2H1615.3M1604.1 448.5H1615.3M1609.7 252.2V448.5M1631.1 279.6H1642.3M1631.1 437.0H1642.3M1636.7 279.6V437.0M1658.1 273.2H1669.3M1658.1 398.0H1669.3M1663.7 273.2V398.0M1685.0 252.7H1696.2M1685.0 563.5H1696.2M1690.6 252.7V563.5M1712.0 273.2H1723.2M1712.0 464.9H1723.2M1717.6 273.2V464.9M1738.9 228.2H1750.1M1738.9 447.5H1750.1M1744.5 228.2V447.5M1765.9 246.0H1777.1M1765.9 349.9H1777.1M1771.5 246.0V349.9M1792.9 278.0H1804.1M1792.9 367.9H1804.1M1798.5 278.0V367.9M1819.8 275.0H1831.0M1819.8 490.5H1831.0M1825.4 275.0V490.5M1846.8 286.8H1858.0M1846.8 403.6H1858.0M1852.4 286.8V403.6M1873.7 297.1H1884.9M1873.7 432.8H1884.9M1879.3 297.1V432.8M1900.7 286.4H1911.9M1900.7 536.2H1911.9M1906.3 286.4V536.2M1927.7 349.9H1938.9M1927.7 427.5H1938.9M1933.3 349.9V427.5M1954.6 254.6H1965.8M1954.6 419.6H1965.8M1960.2 254.6V419.6"/>
<path fill="none" stroke="#00ff00" stroke-opacity="0.7" stroke-width="1.6" d="M1455.9 101.0H1467.1M1455.9 303.3H1467.1M1461.5 101.0V303.3M1482.8 290.1H1494.0M1482.8 470.2H1494.0M1488.4 290.1V470.2M1509.8 265.6H1521.0M1509.8 549.7H1521.0M1515.4 265.6V549.7M1536.7 425.8H1547.9M1536.7 461.3H1547.9M1542.3 425.8V461.3M1563.7 454.1H1574.9M1563.7 534.7H1574.9M1569.3 454.1V534.7M1590.7 305.5H1601.9M1590.7 543.4H1601.9M1596.3 305.5V543.4M1617.6 402.4H1628.8M1617.6 487.0H1628.8M1623.2 402.4V487.0M1644.6 386.5H1655.8M1644.6 495.8H1655.8M1650.2 386.5V495.8M1671.5 419.3H1682.7M1671.5 626.0H1682.7M1677.1 419.3V626.0M1698.5 443.3H1709.7M1698.5 607.0H1709.7M1704.1 443.3V607.0M1725.5 404.0H1736.7M1725.5 512.8H1736.7M1731.1 404.0V512.8M1752.4 466.9H1763.6M1752.4 536.9H1763.6M1758.0 466.9V536.9M1779.4 418.3H1790.6M1779.4 520.8H1790.6M1785.0 418.3V520.8M1806.3 398.4H1817.5M1806.3 570.7H1817.5M1811.9 398.4V570.7M1833.3 481.2H1844.5M1833.3 528.6H1844.5M1838.9 481.2V528.6M1860.3 458.7H1871.5M1860.3 510.5H1871.5M1865.9 458.7V510.5M1887.2 479.0H1898.4M1887.2 559.5H1898.4M1892.8 479.0V559.5M1914.2 500.4H1925.4M1914.2 548.8H1925.4M1919.8 500.4V548.8M1941.1 494.5H1952.3M1941.1 545.4H1952.3M1946.7 494.5V545.4M1968.1 473.2H1979.3M1968.1 595.0H1979.3M1973.7 473.2V595.0"/>
<path fill="none" stroke="#ff0000" stroke-opacity="0.7" stroke-width="1.6" d="M1442.4 383.2H1453.6M1442.4 485.6H1453.6M1448.0 383.2V485.6M1469.3 150.0H1480.5M1469.3 443.3H1480.5M1474.9 150.0V443.3M1496.3 238.2H1507.5M1496.3 422.6H1507.5M1501.9 238.2V422.6M1523.3 347.1H1534.5M1523.3 392.3H1534.5M1528.9 347.1V392.3M1550.2 335.7H1561.4M1550.2 397.2H1561.4M1555.8 335.7V397.2M1577.2 323.7H1588.4M1577.2 433.5H1588.4M1582.8 323.7V433.5M1604.1 271.4H1615.3M1604.1 402.8H1615.3M1609.7 271.4V402.8M1631.1 322.4H1642.3M1631.1 374.4H1642.3M1636.7 322.4V374.4M1658.1 262.3H1669.3M1658.1 353.8H1669.3M1663.7 262.3V353.8M1685.0 209.9H1696.2M1685.0 399.1H1696.2M1690.6 209.9V399.1M1712.0 296.8H1723.2M1712.0 446.4H1723.2M1717.6 296.8V446.4M1738.9 310.1H1750.1M1738.9 425.3H1750.1M1744.5 310.1V425.3M1765.9 302.0H1777.1M1765.9 420.1H1777.1M1771.5 302.0V420.1M1792.9 272.3H1804.1M1792.9 447.3H1804.1M1798.5 272.3V447.3M1819.8 275.4H1831.0M1819.8 442.2H1831.0M1825.4 275.4V442.2M1846.8 269.6H1858.0M1846.8 457.8H1858.0M1852.4 269.6V457.8M1873.7 245.8H1884.9M1873.7 453.8H1884.9M1879.3 245.8V453.8M1900.7 271.9H1911.9M1900.7 420.2H1911.9M1906.3 271.9V420.2M1927.7 335.0H1938.9M1927.7 442.4H1938.9M1933.3 335.0V442.4M1954.6 310.9H1965.8M1954.6 439.4H1965.8M1960.2 310.9V439.4"/>
<line x1="1434.5" x2="1987.1" y1="500.2" y2="500.2" stroke="#00ff00" stroke-width="3.8" stroke-dasharray="13.3 13.35"/>
<line x1="1434.5" x2="1987.1" y1="531.3" y2="531.3" stroke="#0000ff" stroke-width="3.8"/>
</g>
<clipPath id="ic-c"><rect x="1794.0" y="3" width="193.2" height="192.3"/></clipPath>
<g clip-path="url(#ic-c)">
<rect x="1794.0" y="3" width="193.2" height="192.3" fill="#f4a000"/>
<radialGradient id="hz-c"><stop offset="0" stop-color="#c87e00" stop-opacity="1"/><stop offset="0.5" stop-color="#c87e00" stop-opacity="0.55"/><stop offset="1" stop-color="#c87e00" stop-opacity="0"/></radialGradient>
<g><circle cx="1967.5" cy="165.6" r="36.6" fill="url(#hz-c)" opacity="0.6"/><circle cx="1981.0" cy="122.3" r="24.4" fill="url(#hz-c)" opacity="0.5"/><circle cx="1883.5" cy="176.5" r="24.4" fill="url(#hz-c)" opacity="0.4"/><circle cx="1834.7" cy="54.5" r="24.4" fill="url(#hz-c)" opacity="0.35"/><circle cx="1972.9" cy="51.8" r="20.3" fill="url(#hz-c)" opacity="0.5"/></g>
<g fill="#3a2300" filter="url(#bl1)"><circle cx="1840.1" cy="109.3" r="36.6"/><circle cx="1914.6" cy="145.3" r="27.1"/><circle cx="1804.8" cy="9.0" r="21.7" opacity="0.8"/><circle cx="1910.6" cy="190.0" r="19.5"/><circle cx="1939.0" cy="79.7" r="17.6"/><circle cx="1921.4" cy="45.0" r="14.9"/><circle cx="1945.0" cy="32.0" r="13.6"/><circle cx="1918.7" cy="15.2" r="12.5"/><circle cx="1850.1" cy="23.3" r="12.2"/><circle cx="1865.8" cy="61.3" r="10.3"/><circle cx="1981.0" cy="89.7" r="8.9"/><circle cx="1946.3" cy="11.7" r="8.9"/><circle cx="1829.2" cy="28.8" r="7.9"/><circle cx="1982.4" cy="146.7" r="7.6"/><circle cx="1959.4" cy="190.0" r="7.0"/><circle cx="1843.6" cy="59.9" r="6.5" opacity="0.6"/><circle cx="1856.3" cy="151.5" r="6.5" opacity="0.6"/><circle cx="1887.5" cy="81.6" r="5.7" opacity="0.6"/><circle cx="1980.5" cy="7.1" r="5.4" opacity="0.6"/><circle cx="1898.4" cy="57.2" r="5.4" opacity="0.6"/><circle cx="1887.5" cy="27.4" r="4.9" opacity="0.6"/><circle cx="1926.8" cy="101.9" r="4.9" opacity="0.6"/><circle cx="1946.3" cy="103.3" r="4.9" opacity="0.6"/><circle cx="1869.9" cy="31.5" r="4.6" opacity="0.6"/><circle cx="1830.6" cy="150.2" r="4.3" opacity="0.6"/><circle cx="1814.3" cy="51.8" r="3.8" opacity="0.6"/><circle cx="1941.7" cy="118.2" r="3.3" opacity="0.6"/></g>
<rect x="1794.0" y="3" width="193.2" height="192.3" fill="#1a0e00" filter="url(#nzB)" opacity="0.14"/>
<g fill="#ffd400" opacity="0.85" filter="url(#bl4)"><circle cx="1974.5" cy="77.6" r="0.99"/><circle cx="1808.5" cy="83.1" r="0.69"/><circle cx="1801.7" cy="159.8" r="1.05"/><circle cx="1896.1" cy="84.7" r="0.85"/><circle cx="1986.0" cy="182.0" r="0.97"/><circle cx="1882.5" cy="177.7" r="1.09"/><circle cx="1964.7" cy="40.4" r="0.75"/><circle cx="1959.0" cy="98.2" r="0.70"/><circle cx="1965.7" cy="3.7" r="0.66"/><circle cx="1881.2" cy="124.4" r="0.81"/><circle cx="1891.0" cy="11.6" r="1.07"/><circle cx="1876.5" cy="170.3" r="0.69"/><circle cx="1811.5" cy="193.6" r="0.80"/><circle cx="1826.7" cy="188.3" r="1.06"/><circle cx="1815.4" cy="185.8" r="0.58"/><circle cx="1818.9" cy="31.6" r="1.03"/><circle cx="1911.1" cy="109.9" r="0.92"/><circle cx="1802.6" cy="41.7" r="0.51"/><circle cx="1817.3" cy="67.1" r="1.01"/><circle cx="1807.6" cy="67.7" r="0.78"/><circle cx="1881.8" cy="106.6" r="0.93"/><circle cx="1846.5" cy="194.0" r="0.81"/><circle cx="1971.0" cy="181.5" r="0.99"/><circle cx="1850.0" cy="42.7" r="0.73"/><circle cx="1815.5" cy="36.9" r="0.51"/><circle cx="1820.3" cy="144.4" r="0.53"/><circle cx="1911.9" cy="29.2" r="0.53"/><circle cx="1951.6" cy="165.8" r="0.56"/><circle cx="1943.2" cy="176.8" r="0.63"/><circle cx="1891.1" cy="47.9" r="0.75"/><circle cx="1891.2" cy="123.9" r="1.02"/><circle cx="1979.8" cy="176.8" r="0.74"/><circle cx="1861.1" cy="177.8" r="1.02"/><circle cx="1950.1" cy="120.3" r="1.07"/><circle cx="1819.6" cy="38.8" r="0.96"/><circle cx="1845.1" cy="188.3" r="0.84"/><circle cx="1794.7" cy="64.2" r="0.81"/><circle cx="1961.4" cy="120.5" r="1.07"/><circle cx="1880.8" cy="178.9" r="0.82"/><circle cx="1958.4" cy="163.6" r="1.04"/><circle cx="1890.5" cy="7.6" r="0.84"/><circle cx="1812.9" cy="75.3" r="0.64"/><circle cx="1958.1" cy="160.8" r="0.59"/><circle cx="1905.8" cy="76.5" r="0.76"/><circle cx="1979.6" cy="171.6" r="1.00"/><circle cx="1812.6" cy="165.1" r="0.74"/><circle cx="1856.2" cy="52.3" r="1.04"/><circle cx="1907.3" cy="91.3" r="0.82"/><circle cx="1800.4" cy="71.3" r="1.03"/><circle cx="1801.5" cy="59.2" r="1.03"/><circle cx="1967.9" cy="149.7" r="0.74"/><circle cx="1852.4" cy="55.7" r="0.70"/><circle cx="1984.4" cy="114.6" r="0.76"/><circle cx="1974.8" cy="78.6" r="0.64"/><circle cx="1866.5" cy="9.1" r="0.63"/><circle cx="1962.4" cy="32.6" r="0.97"/><circle cx="1871.9" cy="75.9" r="0.73"/><circle cx="1853.9" cy="185.5" r="0.54"/><circle cx="1914.1" cy="90.2" r="0.95"/><circle cx="1799.4" cy="38.5" r="1.06"/><circle cx="1884.2" cy="72.0" r="0.55"/><circle cx="1913.4" cy="110.4" r="1.09"/><circle cx="1947.2" cy="138.4" r="0.58"/><circle cx="1878.7" cy="148.7" r="0.82"/><circle cx="1896.7" cy="20.1" r="0.51"/><circle cx="1980.7" cy="156.9" r="1.03"/><circle cx="1875.2" cy="24.9" r="0.61"/><circle cx="1795.9" cy="42.9" r="0.57"/><circle cx="1816.9" cy="150.4" r="0.65"/><circle cx="1965.8" cy="22.1" r="0.51"/></g>
<rect x="1881.5" y="88.4" width="32.1" height="32.0" fill="none" stroke="#fff" stroke-width="2.6"/>
<rect x="1794.0" y="164.8" width="61.0" height="30.5" fill="#000"/>
<rect x="1801.3" y="174.4" width="45.6" height="12.1" fill="#fff"/>
</g>
<text class="tk" transform="translate(1421.3 550.0) scale(0.95 1)" text-anchor="end">0</text>
<text class="tk" transform="translate(1421.3 447.5) scale(0.95 1)" text-anchor="end">0.2</text>
<text class="tk" transform="translate(1421.3 345.0) scale(0.95 1)" text-anchor="end">0.4</text>
<text class="tk" transform="translate(1421.3 242.3) scale(0.95 1)" text-anchor="end">0.6</text>
<text class="tk" transform="translate(1421.3 139.7) scale(0.95 1)" text-anchor="end">0.8</text>
<text class="tk" transform="translate(1421.3 37.1) scale(0.95 1)" text-anchor="end">1</text>
<text class="tk" transform="translate(1434.2 642.5) scale(0.95 1)" text-anchor="middle">0</text>
<text class="tk" transform="translate(1569.0 642.5) scale(0.95 1)" text-anchor="middle">5</text>
<text class="tk" transform="translate(1703.8 642.5) scale(0.95 1)" text-anchor="middle">10</text>
<text class="tk" transform="translate(1838.6 642.5) scale(0.95 1)" text-anchor="middle">15</text>
<text class="tk" transform="translate(1973.4 642.5) scale(0.95 1)" text-anchor="middle">20</text>
<text class="mono" transform="translate(1711.6 693.1) scale(1 1.06)" font-size="40.5" text-anchor="middle">Illumination Cycle</text>
<text class="ltr" x="1454.6" y="51.3">c</text>
</g>
<text class="mono" transform="translate(35.2 292.9) rotate(-90) scale(1 1.05)" font-size="40.75" text-anchor="middle" style="white-space:pre">Rel.  Deformation (%)</text>
</svg></body></html>
